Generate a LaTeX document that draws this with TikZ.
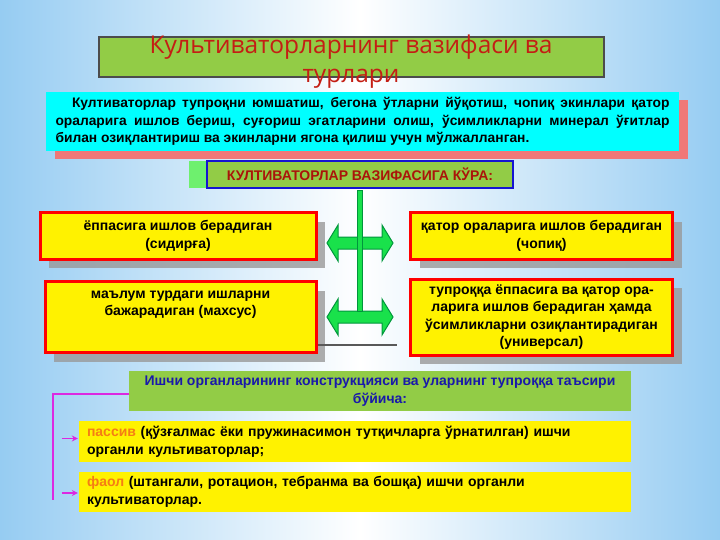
\documentclass[tikz,border=0pt]{standalone}
\usepackage{fontspec}
\setmainfont{Liberation Sans}
\newfontfamily\titlefont{Open Sans}
\usetikzlibrary{shadows,arrows.meta}
\definecolor{bgblue}{RGB}{150,204,242}
\definecolor{leaf}{RGB}{146,204,70}
\definecolor{titlered}{RGB}{196,30,20}
\definecolor{introcyan}{RGB}{0,255,255}
\definecolor{kurablue}{RGB}{20,20,210}
\definecolor{kurared}{RGB}{170,20,10}
\definecolor{iscblue}{RGB}{25,25,170}
\definecolor{shadowred}{RGB}{240,120,120}
\definecolor{stripgreen}{RGB}{110,240,110}
\definecolor{arrowfill}{RGB}{25,225,75}
\definecolor{arrowline}{RGB}{0,150,60}
\definecolor{pinkline}{RGB}{220,40,225}
\definecolor{kindorange}{RGB}{245,125,20}

\begin{document}
\begin{tikzpicture}[x=1pt,y=-1pt,
  bodyfont/.style={font=\fontsize{14}{17.5}\selectfont\bfseries},
  kind/.style={bodyfont,draw=red,line width=3pt,fill=yellow,align=center,inner sep=0pt,
    drop shadow={shadow xshift=9pt,shadow yshift=-9pt,fill=gray!80,opacity=0.8}},
  strip/.style={bodyfont,fill=yellow,align=left,inner xsep=8pt,inner ysep=0pt,
    minimum width=552pt,text width=536pt},
  greenarrow/.style={fill=arrowfill,draw=arrowline,line width=1pt},
  bracket/.style={draw=pinkline,line width=1.6pt}]

\shade[left color=bgblue,right color=bgblue,middle color=white] (0,0) rectangle (720,540);

\node[draw=black!70,line width=1.5pt,fill=leaf,minimum width=505pt,minimum height=40pt]
  (title) at (351.5,57) {};
\node[align=center,text=titlered,font=\titlefont\fontsize{24.5}{28.5}\selectfont]
  (titletext) at (351,61.5) {Культиваторларнинг вазифаси ва\\турлари};

\node[font=\fontsize{13.8}{17.5}\selectfont\bfseries,fill=introcyan,minimum width=633pt,
  minimum height=59pt,text width=614pt,align=justify,inner sep=0pt,
  drop shadow={shadow xshift=9pt,shadow yshift=-8pt,fill=shadowred,opacity=1}]
  (intro) at (362.5,121.5) {\hspace*{1.2em}Култиваторлар тупроқни юмшатиш, бегона ўтларни йўқотиш, чопиқ экинлари қатор \linebreak ораларига ишлов бериш, суғориш эгатларини олиш, ўсимликларни минерал ўғитлар \linebreak билан озиқлантириш ва экинларни ягона қилиш учун мўлжалланган.};

\node[font=\fontsize{14}{16}\selectfont\bfseries,text=kurared,fill=leaf,draw=kurablue,
  line width=2.5pt,minimum width=306pt,minimum height=27pt,inner sep=0pt,
  drop shadow={shadow xshift=-18pt,shadow yshift=0pt,fill=stripgreen,opacity=1}]
  (kura) at (360,174.5) {КУЛТИВАТОРЛАР ВАЗИФАСИГА КЎРА:};

\node[kind,minimum width=276pt,minimum height=46pt] (sidirga) at (178,236)
  {ёппасига ишлов берадиган\\(сидирға)};
\node[kind,minimum width=271pt,minimum height=71pt] (mahsus) at (180.5,317)
  {маълум турдаги ишларни\\бажарадиган (махсус)\\[10pt]~};
\node[kind,minimum width=262pt,minimum height=46pt] (chopik) at (541.5,236)
  {қатор ораларига ишлов берадиган\\(чопиқ)};
\node[kind,minimum width=262pt,minimum height=76pt] (universal) at (541.5,317)
  {тупроққа ёппасига ва қатор ора-\\ларига ишлов берадиган ҳамда\\ўсимликларни озиқлантирадиган\\(универсал)};

\foreach \y in {243,317}
  \filldraw[greenarrow] (327,\y) -- (338,\y-18) -- (338,\y-6) -- (382,\y-6) -- (382,\y-18)
    -- (393,\y) -- (382,\y+18) -- (382,\y+6) -- (338,\y+6) -- (338,\y+18) -- cycle;
\filldraw[greenarrow] (357,191) rectangle (362,311);
\draw[black!65,line width=1.2pt] (318,345) -- (397,345);

\node[bodyfont,text=iscblue,fill=leaf,align=center,minimum width=502pt,minimum height=40pt,
  inner sep=0pt] (isci) at (380,391)
  {Ишчи органларининг конструкцияси ва уларнинг тупроққа таъсири\\бўйича:};

\node[strip,minimum height=41pt] (passiv) at (355,441.5)
  {\textcolor{kindorange}{пассив} (қўзғалмас ёки пружинасимон тутқичларга ўрнатилган) ишчи\\органли культиваторлар;};
\node[strip,minimum height=40pt] (faol) at (355,492)
  {\textcolor{kindorange}{фаол} (штангали, ротацион, тебранма ва бошқа) ишчи органли\\культиваторлар.};

\coordinate (turn) at (53,500);
\draw[bracket] ([yshift=-3pt]isci.west) -| (turn);
\draw[bracket,-{Stealth[length=6pt,width=6pt]}] ([xshift=-17pt,yshift=3pt]passiv.west) -- ([xshift=-1pt,yshift=3pt]passiv.west);
\draw[bracket,-{Stealth[length=6pt,width=6pt]}] ([xshift=-17pt,yshift=-1pt]faol.west) -- ([xshift=-1pt,yshift=-1pt]faol.west);
\end{tikzpicture}
\end{document}
